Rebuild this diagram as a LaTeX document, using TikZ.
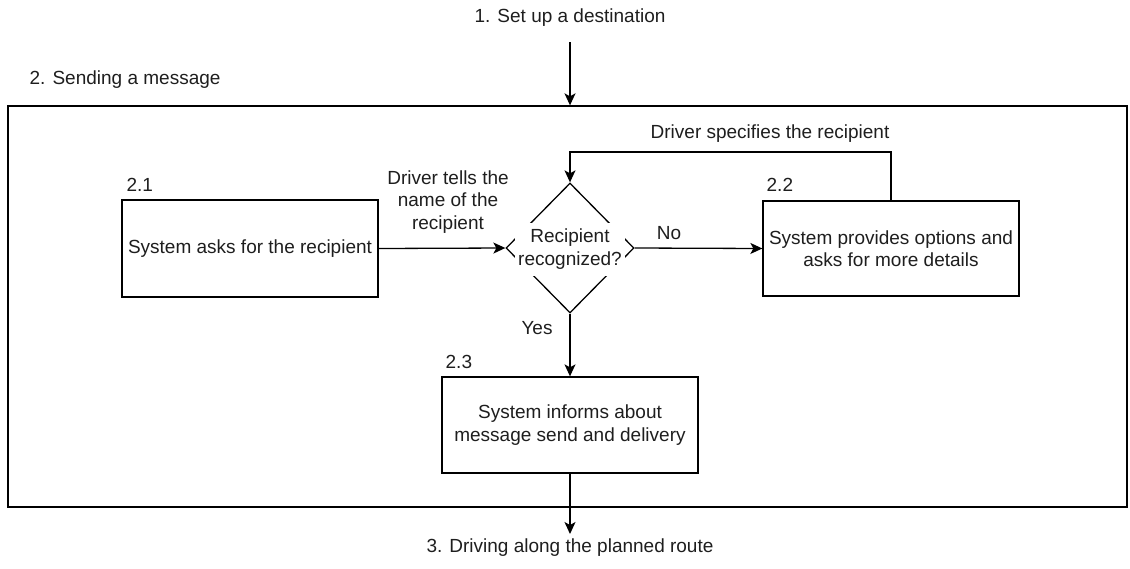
\documentclass[tikz,border=0pt]{standalone}
\usepackage{fontspec}
\setmainfont{Liberation Sans}
\usetikzlibrary{shapes.geometric,arrows.meta,calc}
\definecolor{txt}{RGB}{30,30,30}
\tikzset{
  plain/.style={inner sep=1pt, text=txt, align=center},
  boxnode/.style={draw, inner sep=2pt, minimum width=256, minimum height=96, text=txt, align=center},
  decision/.style={draw, shape=diamond, inner sep=0pt, minimum width=128, minimum height=130},
  conn/.style={->},
}
\begin{document}
\begin{tikzpicture}[x=1pt,y=-1pt, font=\fontsize{19}{22.5}\selectfont, line width=1.3pt,
  >={Stealth[length=12pt,width=11pt,inset=3pt]}]
\useasboundingbox (0,0) rectangle (1130,568);

% outer frame
\node[draw, inner sep=0pt, minimum width=1119, minimum height=401] (frame) at (567.5,306.5) {};

% top / bottom texts
\node[plain] (t1) at (570,18) {1. Set up a destination};
\coordinate (s1) at (570,42);
\node[plain, anchor=west] (t2) at (28,80) {2. Sending a message};
\node[plain] (t3) at (570,548) {3. Driving along the planned route};
\coordinate (e3) at (570,534);

% boxes
\node[boxnode, minimum height=97] (b21) at (250,248.5) {System asks for the recipient};
\node[boxnode, minimum height=95] (b22) at (891,248.5) {System provides options and\\asks for more details};
\node[boxnode] (b23) at (570,425) {System informs about\\message send and delivery};

% number labels
\node[plain, anchor=west] (n21) at (125,185) {2.1};
\node[plain, anchor=west] (n22) at (765,185) {2.2};
\node[plain, anchor=west] (n23) at (444,362) {2.3};

% decision
\node[decision] (dec) at (570,248) {};
\node[fill=white, inner sep=0pt, minimum width=110, minimum height=53, text=txt, align=center] (dect) at (570,249) {Recipient\\recognized?};

% connectors
\draw[conn] (s1) -- (s1 |- frame.north);
\draw[conn] (b21.east) -- (dec.west);
\draw[conn] (dec.east) -- (b22.west);
\draw[conn] (dec.south) -- (b23.north);
\coordinate (lp) at (891,152);
\draw[conn] (b22.north) -- (lp) -| (dec.north);
\draw[conn] (b23.south) -- (e3);

% edge labels
\node[plain] (lbl1) at (448,202) {Driver tells the\\name of the\\recipient};
\node[plain] (lno) at (669,233) {No};
\node[plain] (lyes) at (537,328) {Yes};
\node[plain] (lbl2) at (770,134) {Driver specifies the recipient};
\end{tikzpicture}
\end{document}
